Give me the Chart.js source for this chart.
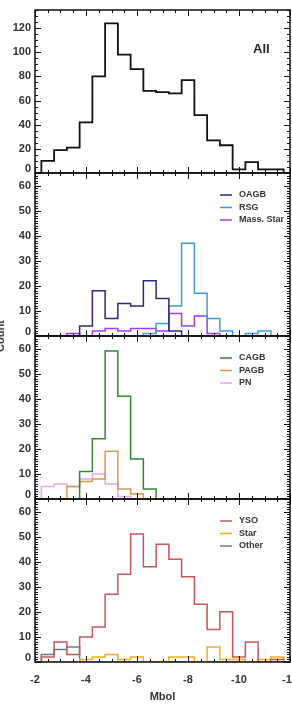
<!DOCTYPE html>
<html>
<head>
<meta charset="utf-8">
<script src="https://cdn.jsdelivr.net/npm/chart.js@4.4.1/dist/chart.umd.min.js"></script>
<style>
body { margin: 0; background: #fff; }
#wrap { position: relative; width: 292px; height: 726px; overflow: hidden; }
canvas { position: absolute; left: 0; }
#ylab { position: absolute; left: 0px; top: 336px; transform: translate(-50%, -50%) rotate(-90deg);
        font: bold 11px 'Liberation Sans', Arial, sans-serif; color: #333; white-space: nowrap; }
</style>
</head>
<body>
<div id="wrap">
  <canvas id="p1" width="292" height="183" style="top:0px"></canvas>
  <canvas id="p2" width="292" height="183" style="top:163px"></canvas>
  <canvas id="p3" width="292" height="183" style="top:326px"></canvas>
  <canvas id="p4" width="292" height="237" style="top:489px"></canvas>
  <div id="ylab">Count</div>
</div>
<script>
// bin centres (Mbol), with an empty bin at each end
const bins = [-2, -2.5, -3, -3.5, -4, -4.5, -5, -5.5, -6, -6.5, -7, -7.5, -8, -8.5, -9, -9.5, -10, -10.5, -11, -11.5, -12];

const allCounts = [0, 10, 19, 21, 42, 80, 124, 98, 86, 68, 67, 66, 77, 48, 27, 23, 3, 9, 3, 3, 0];

const oagb = [0, 0, 0, 0, 4, 18, 7, 13, 12, 22, 15, 2, 0, 0, 0, 0, 0, 0, 0, 0, 0];
const rsg = [0, 0, 0, 0, 0, 0, 0, 0, 0, 1, 5, 12, 37, 17, 7, 2, 0, 1, 2, 0, 0];
const massStar = [0, 0, 0, 1, 0, 2, 3, 2, 3, 3, 2, 9, 4, 8, 1, 0, 0, 0, 0, 0, 0];

const cagb = [0, 0, 0, 0, 11, 24, 59, 41, 16, 4, 0, 0, 0, 0, 0, 0, 0, 0, 0, 0, 0];
const pagb = [0, 0, 0, 5, 7, 8, 19, 4, 2, 0, 0, 0, 0, 0, 0, 0, 0, 0, 0, 0, 0];
const pn = [0, 5, 6, 5, 8, 10, 6, 1, 0, 0, 0, 0, 0, 0, 0, 0, 0, 0, 0, 0, 0];

const yso = [0, 2, 8, 3, 10, 14, 27, 35, 51, 38, 47, 41, 34, 23, 13, 20, 2, 8, 0, 1, 0];
const star = [0, 0, 0, 0, 1, 2, 3, 1, 2, 0, 0, 2, 2, 0, 6, 1, 1, 0, 1, 2, 0];
const other = [0, 3, 5, 6, 0, 0, 0, 0, 0, 0, 0, 0, 0, 0, 0, 0, 0, 0, 0, 0, 0];

const FONT = "'Liberation Sans', Arial, sans-serif";

// box, inward ticks and legend, drawn from the chart's own scales
const frame = {
    id: 'frame',
    afterDatasetsDraw(chart, args, opts) {
        const { ctx, chartArea: a } = chart;
        const x = chart.scales.x, y = chart.scales.y;
        ctx.save();
        ctx.strokeStyle = '#111';
        ctx.lineWidth = 1;
        ctx.beginPath();
        for (let v = 0; v <= y.max; v += opts.yMinor) {
            const p = Math.round(y.getPixelForValue(v)) + 0.5;
            const len = v % opts.yMajor === 0 ? 6 : 3;
            ctx.moveTo(a.left, p); ctx.lineTo(a.left + len, p);
            ctx.moveTo(a.right, p); ctx.lineTo(a.right - len, p);
        }
        for (let v = -2; v >= -12; v -= 0.5) {
            const p = Math.round(x.getPixelForValue(v)) + 0.5;
            const len = v % 2 === 0 ? 6 : 3;
            ctx.moveTo(p, a.bottom); ctx.lineTo(p, a.bottom - len);
            ctx.moveTo(p, a.top); ctx.lineTo(p, a.top + len);
        }
        ctx.stroke();
        ctx.lineWidth = 1.5;
        ctx.strokeRect(a.left, a.top, a.right - a.left, a.bottom - a.top);

        if (opts.tag) {
            ctx.fillStyle = '#222';
            ctx.font = 'bold 13px ' + FONT;
            ctx.textBaseline = 'middle';
            ctx.fillText(opts.tag, 253, a.top + 39);
        } else {
            ctx.font = 'bold 9px ' + FONT;
            ctx.textBaseline = 'middle';
            chart.data.datasets.forEach((ds, i) => {
                const ly = a.top + 22 + i * 12.5;
                ctx.strokeStyle = ds.borderColor;
                ctx.lineWidth = 1.5;
                ctx.beginPath();
                ctx.moveTo(a.left + 185, ly);
                ctx.lineTo(a.left + 197, ly);
                ctx.stroke();
                ctx.fillStyle = '#333';
                ctx.fillText(ds.label, a.left + 204, ly);
            });
        }
        ctx.restore();
    }
};

function makePanel(id, series, yMax, yMajor, yMinor, isBottom, tag) {
    const ctx = document.getElementById(id);
    return new Chart(ctx, {
        type: 'line',
        data: {
            datasets: series.map(s => ({
                label: s.label,
                data: bins.map((b, i) => ({ x: b, y: s.data[i] })),
                borderColor: s.color,
                borderWidth: s.width || 1.5,
                stepped: 'middle',
                pointRadius: 0,
                fill: false
            }))
        },
        options: {
            responsive: false,
            animation: false,
            events: [],
            layout: { padding: { top: 10, right: 2, bottom: isBottom ? 0 : 10, left: 0 } },
            scales: {
                x: {
                    type: 'linear',
                    min: -12,
                    max: -2,
                    reverse: true,
                    display: isBottom,
                    grid: { display: false, drawTicks: false },
                    border: { display: false },
                    ticks: {
                        stepSize: 2,
                        padding: 11,
                        maxRotation: 0,
                        autoSkip: false,
                        color: '#333',
                        font: { family: FONT, size: 11, weight: 'bold' }
                    },
                    title: {
                        display: isBottom,
                        text: 'Mbol',
                        color: '#333',
                        font: { family: FONT, size: 11, weight: 'bold' },
                        padding: { top: 0, bottom: 22 }
                    },
                    afterFit: s => {
                        s.paddingLeft = 0;
                        s.paddingRight = 0;
                        if (isBottom) s.height = 64;
                    }
                },
                y: {
                    min: 0,
                    max: yMax,
                    grid: { display: false, drawTicks: false },
                    border: { display: false },
                    ticks: {
                        stepSize: yMajor,
                        padding: 4,
                        color: '#333',
                        font: c => ({
                            family: FONT, size: 11, weight: 'bold',
                            lineHeight: c.tick && c.tick.value === 0 ? '8px' : 1.2
                        }),
                        callback: v => v % yMajor !== 0 ? '' : (v === 0 ? ['0', ''] : String(v))
                    },
                    afterFit: s => {
                        s.width = 35;
                        s.paddingTop = 0;
                        s.paddingBottom = 0;
                    }
                }
            },
            plugins: {
                legend: { display: false },
                tooltip: { enabled: false },
                frame: { yMajor: yMajor, yMinor: yMinor, tag: tag }
            }
        },
        plugins: [frame]
    });
}

makePanel('p1', [
    { label: 'All', data: allCounts, color: '#111', width: 1.8 }
], 135, 20, 5, false, 'All');

makePanel('p2', [
    { label: 'OAGB', data: oagb, color: '#2c2a7e' },
    { label: 'RSG', data: rsg, color: '#3d9be0' },
    { label: 'Mass. Star', data: massStar, color: '#a23ce8' }
], 65, 10, 1, false);

makePanel('p3', [
    { label: 'CAGB', data: cagb, color: '#2f8a2f' },
    { label: 'PAGB', data: pagb, color: '#e0944e' },
    { label: 'PN', data: pn, color: '#e8a8e8' }
], 65, 10, 1, false);

makePanel('p4', [
    { label: 'YSO', data: yso, color: '#c8555a' },
    { label: 'Star', data: star, color: '#f2ac1c' },
    { label: 'Other', data: other, color: '#6c7b8b' }
], 65, 10, 1, true);
</script>
</body>
</html>
